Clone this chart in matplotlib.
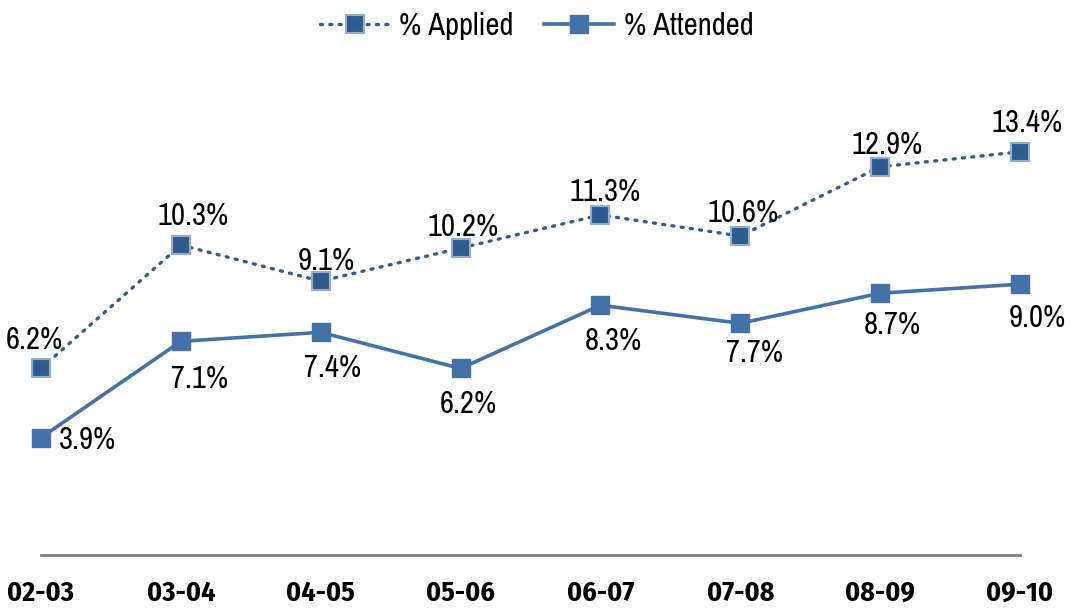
import matplotlib.pyplot as plt

# -------------------- data -------------------- #
years = ["02-03", "03-04", "04-05", "05-06", "06-07", "07-08", "08-09", "09-10"]
applied = [6.2, 10.3, 9.1, 10.2, 11.3, 10.6, 12.9, 13.4]
attended = [3.9, 7.1, 7.4, 6.2, 8.3, 7.7, 8.7, 9.0]

# label offsets in pixels (dx, dy) relative to each marker
applied_off = [(-7, 28), (12, 29), (6, 20), (3, 21), (5, 23), (3, 23), (7, 22), (7, 29)]
attended_off = [(46, -2), (19, -38), (12, -36), (8, -36), (13, -36), (14, -30), (12, -32), (17, -34)]

plt.rcParams["font.family"] = ["Archivo Narrow", "Liberation Sans", "DejaVu Sans"]

dark = "#2F5C8F"
edge = "#95AED0"
mid = "#4472A8"
FS = 22

fig = plt.figure(figsize=(10.73, 6.15), dpi=100)
ax = fig.add_axes([41 / 1073, 60 / 615, (1020 - 41) / 1073, (555 - 60) / 615])

x = list(range(len(years)))
ax.plot(x, applied, color=dark, lw=2.4, linestyle=(0, (0.6, 2.2)), dash_capstyle="round",
        marker="s", markersize=13, markerfacecolor=dark, markeredgecolor=edge,
        markeredgewidth=1.5, label="% Applied", zorder=3, clip_on=False)
ax.plot(x, attended, color=mid, lw=2.6, marker="s", markersize=13.5,
        markerfacecolor=mid, markeredgecolor=mid, label="% Attended", zorder=3, clip_on=False)

for i, v in enumerate(applied):
    ax.annotate(f"{v:.1f}%", (i, v), xytext=applied_off[i], textcoords="offset pixels",
                ha="center", va="center", fontsize=FS, color="black")
for i, v in enumerate(attended):
    ax.annotate(f"{v:.1f}%", (i, v), xytext=attended_off[i], textcoords="offset pixels",
                ha="center", va="center", fontsize=FS, color="black")

ax.set_xlim(0, len(years) - 1)
ax.set_ylim(0, 16.45)
ax.set_yticks([])
ax.set_xticks(x)
ax.set_xticklabels(years, fontsize=20, fontweight="bold",
                   family=["Fira Sans Condensed", "DejaVu Sans"])
ax.tick_params(axis="x", length=0, pad=18)
for s in ["top", "right", "left"]:
    ax.spines[s].set_visible(False)
ax.spines["bottom"].set_color("#808080")
ax.spines["bottom"].set_linewidth(2)
ax.patch.set_visible(False)

fig.legend(loc="upper center", bbox_to_anchor=(0.5, 1.025), ncol=2, frameon=False,
           fontsize=FS, handlelength=2.3, columnspacing=1.0, handletextpad=0.3)

fig.savefig("out.png", dpi=100)
